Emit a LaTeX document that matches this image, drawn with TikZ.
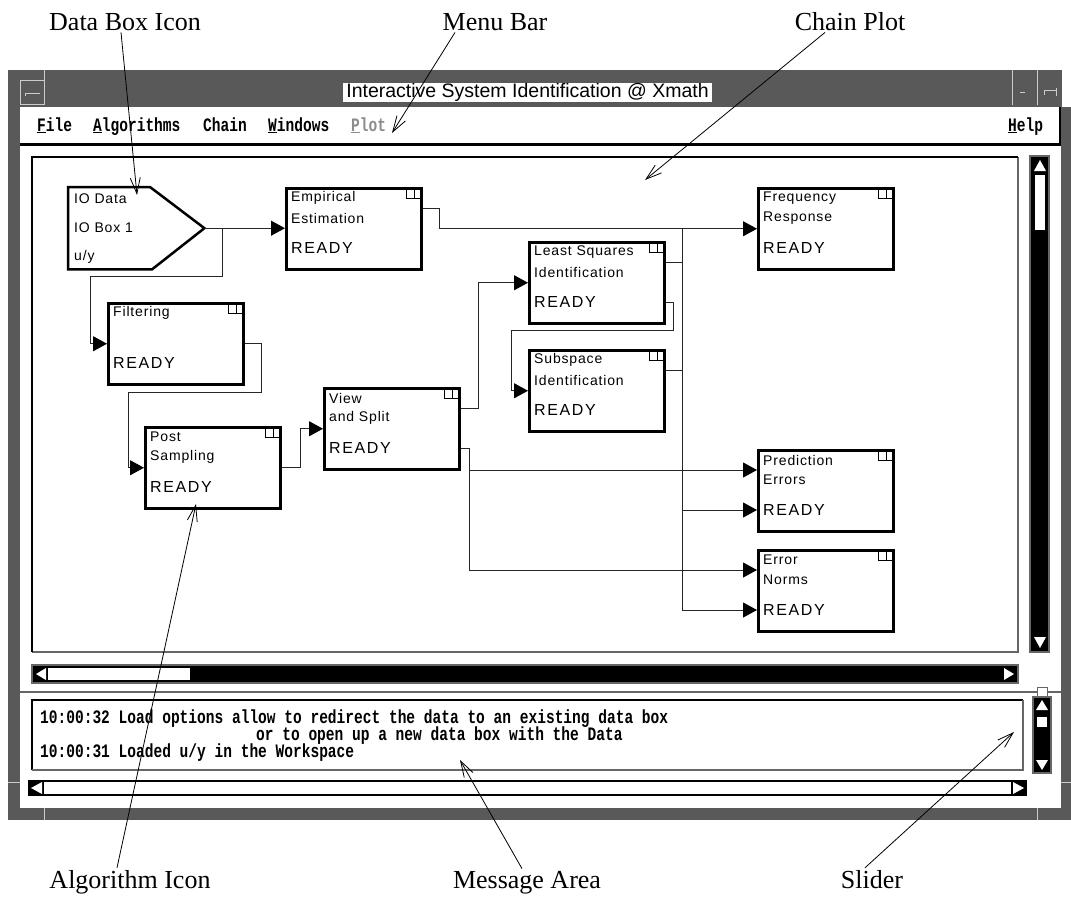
\documentclass[tikz,border=0pt]{standalone}
\usepackage{fontspec}
\setmainfont{Liberation Serif}
\newfontfamily\boxfont{Liberation Sans}[LetterSpace=6]
\newfontfamily\readyfont{Liberation Sans}[LetterSpace=10]
\newfontfamily\titlefont{Liberation Sans}
\newfontfamily\guifont{Liberation Mono}[UprightFont={* Bold},FakeStretch=0.765]
\usetikzlibrary{calc,arrows.meta}
\tikzset{
  stipple/.style={fill=black!65},
  stippleline/.style={draw=black!60,line width=2pt},
  algbox/.style={draw,line width=2.5pt,minimum width=135pt,minimum height=81pt,anchor=north west,inner sep=0pt},
  boxtext/.style={anchor=west,inner sep=0pt,font=\boxfont\fontsize{14}{14}\selectfont},
  readytext/.style={anchor=west,inner sep=0pt,font=\readyfont\fontsize{16}{16}\selectfont},
  wire/.style={line width=1pt,black!85},
  chainarrow/.tip={Triangle[length=14pt,width=15pt,fill=black,color=black]},
  annotarrow/.style={line width=0.8pt,-{Straight Barb[length=16pt,width=10pt]}},
  menutext/.style={anchor=base west,inner sep=0pt,font=\guifont\fontsize{19}{19}\selectfont},
  annot/.style={anchor=base,inner sep=2pt,font=\fontsize{26}{26}\selectfont}
}
\begin{document}
\begin{tikzpicture}[x=1pt,y=-1pt]
\useasboundingbox[fill=white] (0,0) rectangle (1071,905);
%
% window frame and title bar
\fill[stipple] (8,70) rectangle (1071,820);
\fill[white] (1062,70) rectangle (1071,107);
\fill[white] (20,107) rectangle (1061,808);
\draw[white!80!black,line width=1pt] (44,70) -- (44,105) (1012,70) -- (1012,105) (1037,70) -- (1037,105);
\draw[white!80!black,line width=1pt] (20,80) rectangle (44,104) (25,93) -- (40,93) (25,93) -- (25,96);
\draw[white!80!black,line width=1pt] (1020,92) -- (1025,92) (1044,90) -- (1056,90) (1044,90) -- (1044,95) (1056,88) -- (1056,96);
\draw[white!80!black,line width=1pt] (44,808) -- (44,820) (1037,808) -- (1037,820) (8,782) -- (20,782) (1061,782) -- (1071,782);
\node[fill=white,inner sep=0pt,minimum width=369pt,minimum height=19pt,text height=13.5pt,text depth=4pt,
  font=\titlefont\fontsize{19.5}{19.5}\selectfont] (title) at (527.5,92.5) {Interactive System Identification @ Xmath};
%
% menu bar
\draw[line width=2.5pt] (20,144.5) -- (1060,144.5) -- (1060,107);
\node[menutext] (m-file) at (37,131) {\underline{F}ile};
\node[menutext] (m-alg) at (93,131) {\underline{A}lgorithms};
\node[menutext] (m-chain) at (203,131) {Chain};
\node[menutext] (m-win) at (268,131) {\underline{W}indows};
\node[menutext,text=black!45] (m-plot) at (351,131) {\underline{P}lot};
\node[menutext] (m-help) at (1008,131) {\underline{H}elp};
%
% chain plot area and its scroll bars
\draw[stippleline] (1018,157) -- (1018,652) -- (32,652);
\draw[line width=2.5pt] (32,652) -- (32,157) -- (1018,157);
\fill[black] (1030,156) rectangle (1049,652);
\draw[black!60,line width=1.5pt] (1030,156) rectangle (1049,652);
\fill[white] (1035,175) rectangle (1045,230);
\fill[white] (1034,171) -- (1040,160) -- (1046,171) -- cycle;
\fill[white] (1034,637) -- (1040,648) -- (1046,637) -- cycle;
\fill[black] (32,665) rectangle (1018,683);
\draw[black!60,line width=1.5pt] (32,665) rectangle (1018,683);
\fill[white] (48,668) rectangle (190,680);
\fill[white] (46,668) -- (36,674) -- (46,680) -- cycle;
\fill[white] (1004,668) -- (1014,674) -- (1004,680) -- cycle;
%
% sash
\draw[black!60,line width=1.5pt] (20,692) -- (1061,692);
\draw[black!60,fill=white,line width=1pt] (1037,687) rectangle (1047,697);
%
% message area
\draw[line width=2.5pt] (32,770) -- (32,700) -- (1023,700);
\draw[stippleline] (1023,700) -- (1023,770) -- (32,770);
\node[menutext] (msg1) at (40,723) {10:00:32 Load options allow to redirect the data to an existing data box};
\node[menutext] (msg2) at (256,740) {or to open up a new data box with the Data};
\node[menutext] (msg3) at (40,757) {10:00:31 Loaded u/y in the Workspace};
\fill[black] (1033,697) rectangle (1051,773);
\draw[black!60,line width=1.5pt] (1033,697) rectangle (1051,773);
\fill[white] (1036,710) -- (1042,700) -- (1048,710) -- cycle;
\fill[white] (1037,717) rectangle (1047,727);
\fill[white] (1036,760) -- (1042,770) -- (1048,760) -- cycle;
\fill[black] (28,780) rectangle (1027,796);
\fill[white] (44,782) rectangle (1011,794);
\fill[white] (42,782) -- (31,788) -- (42,794) -- cycle;
\fill[white] (1013,782) -- (1024,788) -- (1013,794) -- cycle;
%
% data box icon
\node[inner sep=0pt,minimum width=136pt,minimum height=82pt,anchor=north west] (io) at (68,187) {};
\draw[line width=2.5pt] (io.north west) -- ($(io.north west)+(82,0)$) -- (io.east)
  -- ($(io.south west)+(84,0)$) -- (io.south west) -- cycle;
\node[boxtext] (io-a) at ($(io.north west)+(6,12)$) {IO Data};
\node[boxtext] (io-b) at ($(io.north west)+(6,41)$) {IO Box 1};
\node[boxtext] (io-c) at ($(io.north west)+(6,70)$) {u/y};
%
% algorithm icons
\foreach \nm/\x/\y/\la/\lb in {
  emp/285/187/Empirical/Estimation,
  freq/757/187/Frequency/Response,
  ls/528/241/Least Squares/Identification,
  sub/528/349/Subspace/Identification,
  view/323/387/View/and Split,
  filt/107/302/Filtering/,
  post/144/426/Post/Sampling,
  pred/757/449/Prediction/Errors,
  norm/757/549/Error/Norms}
{
  \node[algbox] (\nm) at (\x,\y) {};
  \node[boxtext] (\nm-a) at ($(\nm.north west)+(6,11)$) {\la};
  \node[boxtext] (\nm-b) at ($(\nm.north west)+(6,31)$) {\lb};
  \node[readytext] (\nm-c) at ($(\nm.north west)+(6,61)$) {READY};
  \draw[line width=1pt] ($(\nm.north east)+(-16,1)$) rectangle ($(\nm.north east)+(-1,11)$)
    ($(\nm.north east)+(-8.5,1)$) -- ($(\nm.north east)+(-8.5,11)$);
}
%
% connections
\draw[wire,-chainarrow] (io.east) -- (io.east -| emp.west);
\coordinate (iojoin) at ($(io.east)+(18,0)$);
\draw[wire,-chainarrow] (iojoin) |- (90,276) |- (filt.west);
\draw[wire,-chainarrow] (filt.east) -- ++(17,0) |- (128,392) |- (post.west);
\draw[wire,-chainarrow] (post.east) -- ++(19,0) |- (view.west);
\draw[wire,-chainarrow] ($(view.north east)+(0,21)$) -- ++(18,0) |- (ls.west);
\draw[wire,-chainarrow] ($(view.north east)+(0,61)$) -- ++(9,0) |- ($(norm.north west)+(0,21)$);
\draw[wire,-chainarrow] ($(view.north east)+(9,61)$) |- ($(pred.north west)+(0,21)$);
\draw[wire,-chainarrow] ($(emp.north east)+(0,21)$) -- ++(17,0) |- (freq.west);
\draw[wire,-chainarrow] ($(ls.north east)+(0,61)$) -- ++(8,0) |- (511,330) |- (sub.west);
%
\coordinate (bustop) at ($(freq.west)+(-75,0)$);
\coordinate (busbot) at ($(norm.north west)+(-75,61)$);
\coordinate (lsout) at ($(ls.north east)+(0,21)$);
\coordinate (subout) at ($(sub.north east)+(0,21)$);
\draw[wire] (bustop) -- (busbot);
\draw[wire] (lsout) -- (lsout -| bustop);
\draw[wire] (subout) -- (subout -| bustop);
\draw[wire,-chainarrow] ($(pred.north west)+(-75,61)$) -- ($(pred.north west)+(0,61)$);
\draw[wire,-chainarrow] (busbot) -- ($(norm.north west)+(0,61)$);
%
% annotations
\node[annot] (lbl-data) at (125,30) {Data Box Icon};
\node[annot] (lbl-menu) at (495,30) {Menu Bar};
\node[annot] (lbl-chain) at (850,30) {Chain Plot};
\node[annot] (lbl-alg) at (130,888) {Algorithm Icon};
\node[annot] (lbl-msg) at (527,888) {Message Area};
\node[annot] (lbl-slider) at (872,888) {Slider};
%
\coordinate (tip-data) at (137,195);
\coordinate (tip-menu) at (392,133);
\coordinate (tip-chain) at (645,180);
\coordinate (tip-alg) at (196,504);
\coordinate (tip-msg) at (460,760);
\coordinate (tip-slider) at (1014,732);
%
\draw[annotarrow] ($(lbl-data.south)+(-4,0)$) -- (tip-data);
\draw[annotarrow] ($(lbl-menu.south)+(-40,0)$) -- (tip-menu);
\draw[annotarrow] ($(lbl-chain.south)+(-25,0)$) -- (tip-chain);
\draw[annotarrow] ($(lbl-alg.north)+(-13,0)$) -- (tip-alg);
\draw[annotarrow] ($(lbl-msg.north)+(-5,0)$) -- (tip-msg);
\draw[annotarrow] ($(lbl-slider.north)+(-7,0)$) -- (tip-slider);
\end{tikzpicture}
\end{document}
